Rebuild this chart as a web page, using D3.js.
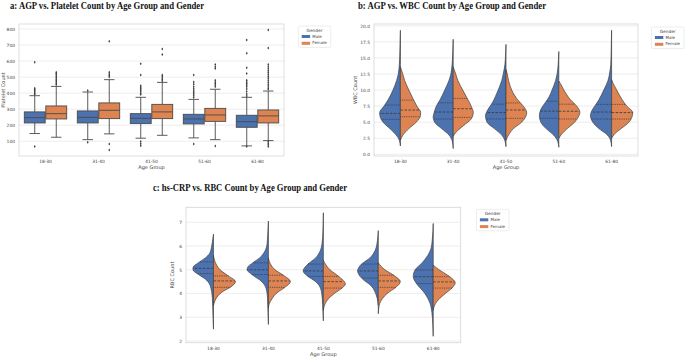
<!DOCTYPE html>
<html>
<head>
<meta charset="utf-8">
<script src="https://cdn.jsdelivr.net/npm/d3@7"></script>
<style>
  body { margin: 0; background: #fff; }
  text { font-family: "DejaVu Sans", sans-serif; }
</style>
</head>
<body>
<div class="chart"></div>
<script>
// categories
const ageGroups = ["18-30", "31-40", "41-50", "51-60", "61-80"];
const genders = ["Male", "Female"];

// a: platelet box stats per age group [whiskerLow, q1, median, q3, whiskerHigh]
const plateletMale = [
  [148, 214, 247, 283, 384],
  [110, 214, 249, 289, 407],
  [119, 210, 243, 272, 374],
  [121, 208, 239, 268, 361],
  [71, 187, 222, 262, 374]
];
const plateletFemale = [
  [125, 239, 272, 320, 442],
  [146, 241, 293, 339, 484],
  [137, 241, 283, 330, 467],
  [110, 224, 264, 305, 424],
  [104, 214, 258, 295, 413]
];
const plateletMaleOutliers = [
  [592, 430, 422, 415, 408, 400, 393, 67],
  [417, 94],
  [583, 513, 446, 436, 428, 420, 410, 400, 392, 98, 85, 72],
  [513, 470, 455, 440, 428, 415, 405, 395, 383, 372, 83],
  [731, 648, 559, 523, 480, 470, 460, 450, 440, 425, 410, 395, 382, 67]
];
const plateletFemaleOutliers = [
  [530, 522, 514, 505, 496, 487, 478, 470, 460, 452],
  [724, 530, 520, 510, 500, 83, 46],
  [675, 641, 513, 505, 495, 485, 475],
  [579, 565, 554, 480, 470, 460, 450, 440, 71],
  [793, 681, 579, 565, 552, 540, 528, 516, 504, 492, 480, 468, 456, 444, 432, 424, 98, 88, 78, 67]
];
const plateletTicks = [100, 200, 300, 400, 500, 600, 700, 800];

// b: WBC violin outlines [value, relative half width], and quartiles [q1, median, q3]
const wbcMaleShape = [
  [[1.3,0],[2.2,0.05],[3,0.2],[4,0.5],[5,0.82],[6,0.97],[6.5,0.98],[7.5,0.78],[8.5,0.58],[10,0.35],[11.5,0.18],[12.5,0.1],[14,0.05],[16,0.025],[19.3,0]],
  [[0.9,0],[2,0.04],[3,0.2],[4,0.55],[5,0.88],[5.8,0.95],[6.5,0.9],[7.5,0.8],[8.5,0.62],[10,0.4],[11.5,0.2],[12.5,0.11],[14,0.05],[16,0.02],[17.9,0]],
  [[1.2,0],[2.2,0.06],[3,0.2],[4,0.55],[5,0.9],[6,0.97],[7,0.85],[8,0.65],[9,0.5],[10,0.37],[11.5,0.2],[12.5,0.13],[14,0.05],[15.5,0.02],[17.1,0]],
  [[1.1,0],[2,0.05],[3,0.25],[4,0.6],[5,0.85],[6,0.92],[7,0.85],[8,0.65],[9,0.45],[10,0.32],[11.5,0.15],[12.5,0.08],[14,0.03],[16,0]],
  [[1.2,0],[2.2,0.05],[3,0.2],[4,0.6],[5,0.89],[6,1.0],[7,0.9],[7.5,0.8],[8.5,0.6],[10,0.37],[11.5,0.17],[12.5,0.1],[14,0.04],[16,0.02],[19.3,0]]
];
const wbcFemaleShape = [
  [[2.2,0],[3,0.12],[4,0.4],[5,0.75],[6,0.95],[6.5,0.96],[7.5,0.78],[8.5,0.62],[10,0.4],[11.5,0.2],[12.5,0.11],[13.6,0]],
  [[2.8,0],[3.5,0.15],[4.5,0.5],[5.5,0.85],[6.5,0.95],[7.5,0.85],[8.5,0.7],[10,0.45],[11.5,0.22],[12.5,0.12],[13.6,0]],
  [[2.2,0],[3,0.12],[4,0.35],[5,0.74],[6,0.95],[6.5,0.98],[7.5,0.82],[8.5,0.55],[10,0.27],[11.5,0.12],[12.5,0.06],[13.2,0]],
  [[2.5,0],[3.2,0.15],[4,0.4],[5,0.75],[6,0.95],[6.5,1.0],[7.5,0.85],[8.5,0.55],[10,0.24],[11,0.08],[11.4,0]],
  [[2.5,0],[3.2,0.15],[4,0.45],[5,0.82],[6,0.98],[6.5,1.0],[7.5,0.72],[8.5,0.5],[10,0.24],[11,0.08],[11.6,0]]
];
const wbcMaleQuartiles = [[5.44, 6.37, 7.67], [5.49, 6.58, 8.02], [5.5, 6.5, 7.8], [5.6, 6.73, 8.27], [5.49, 6.58, 7.77]];
const wbcFemaleQuartiles = [[5.85, 6.89, 8.44], [5.75, 7.1, 8.7], [5.6, 6.9, 8.0], [5.5, 6.7, 7.8], [5.49, 6.5, 7.77]];
const wbcTicks = [0, 2.5, 5, 7.5, 10, 12.5, 15, 17.5, 20];

// c: RBC violins
const rbcMaleShape = [
  [[2.5,0],[3,0.02],[3.6,0.04],[4,0.07],[4.2,0.11],[4.4,0.18],[4.6,0.36],[4.8,0.68],[5,0.93],[5.1,0.93],[5.3,0.68],[5.5,0.37],[5.7,0.17],[6,0.08],[6.3,0.03],[6.5,0]],
  [[2.7,0],[3.2,0.02],[3.8,0.04],[4.2,0.1],[4.5,0.3],[4.8,0.75],[5,0.97],[5.1,0.95],[5.3,0.7],[5.5,0.4],[5.8,0.15],[6.1,0.06],[6.5,0.03],[7.05,0]],
  [[2.85,0],[3.3,0.02],[3.8,0.05],[4.2,0.12],[4.5,0.35],[4.72,0.7],[4.95,0.92],[5.24,0.7],[5.5,0.35],[5.8,0.14],[6.1,0.06],[6.6,0.02],[7.4,0]],
  [[3.5,0],[3.8,0.05],[4,0.12],[4.3,0.3],[4.65,0.76],[4.95,0.94],[5.24,0.76],[5.5,0.38],[5.8,0.15],[6.1,0.06],[6.4,0.02],[6.65,0]],
  [[2.2,0],[2.7,0.02],[3.2,0.06],[3.6,0.15],[4,0.38],[4.42,0.76],[4.71,0.91],[4.99,0.83],[5.3,0.5],[5.6,0.25],[5.9,0.1],[6.3,0.04],[6.95,0]]
];
const rbcFemaleShape = [
  [[3.5,0],[3.7,0.07],[3.9,0.2],[4.1,0.45],[4.26,0.76],[4.5,1.0],[4.74,0.68],[5,0.3],[5.2,0.14],[5.4,0.05],[5.6,0]],
  [[3.4,0],[3.6,0.05],[3.8,0.18],[4,0.35],[4.26,0.75],[4.5,1.0],[4.77,0.68],[5,0.3],[5.2,0.12],[5.5,0]],
  [[3.3,0],[3.5,0.05],[3.8,0.25],[4,0.5],[4.23,0.85],[4.4,1.0],[4.72,0.7],[5,0.3],[5.2,0.12],[5.4,0]],
  [[3.15,0],[3.5,0.04],[3.8,0.2],[4,0.4],[4.26,0.8],[4.5,1.0],[4.77,0.7],[5,0.3],[5.15,0.12],[5.3,0]],
  [[3.3,0],[3.5,0.06],[3.8,0.3],[4,0.55],[4.23,0.85],[4.45,1.0],[4.71,0.75],[4.95,0.35],[5.1,0.12],[5.2,0]]
];
const rbcMaleQuartiles = [[4.84, 5.06, 5.33], [4.8, 5.0, 5.29], [4.72, 4.95, 5.24], [4.65, 4.95, 5.24], [4.42, 4.71, 4.99]];
const rbcFemaleQuartiles = [[4.26, 4.53, 4.74], [4.26, 4.53, 4.77], [4.23, 4.5, 4.72], [4.26, 4.53, 4.77], [4.23, 4.49, 4.71]];
const rbcTicks = [2, 3, 4, 5, 6, 7];

const colors = { Male: "#4c72b0", Female: "#dd8452" };
const lineGray = "#4a4a4a";

const svg = d3.select(".chart").append("svg")
  .attr("width", 685)
  .attr("height", 358)
  .style("background", "#fff");

// frame, grid, ticks, labels, legend for one panel
function drawPanel(p) {
  const g = svg.append("g");
  const x = d3.scaleBand().domain(ageGroups).range([p.left, p.right]);
  const y = d3.scaleLinear().domain(p.domain).range([p.bottom, p.top]);

  g.selectAll(".grid")
    .data(p.ticks)
    .join("line")
    .attr("x1", p.left).attr("x2", p.right)
    .attr("y1", d => y(d)).attr("y2", d => y(d))
    .attr("stroke", "#e8e8e8")
    .attr("stroke-width", 0.8);

  g.append("rect")
    .attr("x", p.left).attr("y", p.top)
    .attr("width", p.right - p.left).attr("height", p.bottom - p.top)
    .attr("fill", "none")
    .attr("stroke", "#d6d6d6")
    .attr("stroke-width", 0.8);

  const ya = g.append("g")
    .attr("transform", `translate(${p.left},0)`)
    .call(d3.axisLeft(y).tickValues(p.ticks).tickFormat(p.fmt).tickSize(0).tickPadding(4));
  ya.select(".domain").remove();
  ya.selectAll("text").attr("font-size", 4.4).attr("fill", "#444").attr("font-family", "DejaVu Sans");

  const xa = g.append("g")
    .attr("transform", `translate(0,${p.bottom})`)
    .call(d3.axisBottom(x).tickSize(0).tickPadding(4));
  xa.select(".domain").remove();
  xa.selectAll("text").attr("font-size", 4.4).attr("fill", "#444").attr("font-family", "DejaVu Sans");

  g.append("text")
    .attr("x", (p.left + p.right) / 2)
    .attr("y", p.bottom + 13)
    .attr("text-anchor", "middle")
    .attr("font-size", 5)
    .attr("fill", "#444")
    .text("Age Group");

  g.append("text")
    .attr("transform", `translate(${p.yLabelX},${(p.top + p.bottom) / 2}) rotate(-90)`)
    .attr("text-anchor", "middle")
    .attr("font-size", 5)
    .attr("fill", "#444")
    .text(p.yLabel);

  g.append("text")
    .attr("x", p.titleX)
    .attr("y", p.titleY)
    .attr("font-weight", "bold")
    .attr("font-size", 11)
    .attr("textLength", p.titleW)
    .attr("lengthAdjust", "spacingAndGlyphs")
    .attr("fill", "#111")
    .style("font-family", "'Liberation Serif', serif")
    .text(p.title);

  // legend
  const lg = g.append("g").attr("transform", `translate(${p.legendX},${p.legendY})`);
  lg.append("rect")
    .attr("width", 32.5).attr("height", 21.5).attr("rx", 1.5)
    .attr("fill", "#fff").attr("stroke", "#e0e0e0").attr("stroke-width", 0.6);
  lg.append("text")
    .attr("x", 16.2).attr("y", 6.2)
    .attr("text-anchor", "middle")
    .attr("font-size", 4.3).attr("fill", "#444")
    .text("Gender");
  genders.forEach((gd, i) => {
    lg.append("rect")
      .attr("x", 3.4).attr("y", 9 + i * 6.8)
      .attr("width", 8.4).attr("height", 3)
      .attr("fill", colors[gd]);
    lg.append("text")
      .attr("x", 14).attr("y", 11.6 + i * 6.8)
      .attr("font-size", 4).attr("fill", "#444")
      .text(gd);
  });

  return { g, x, y };
}

// ---------- a: box plots ----------
const A = drawPanel({
  left: 19, right: 284, top: 24, bottom: 156,
  domain: [8, 831], ticks: plateletTicks, fmt: d3.format("d"),
  yLabel: "Platelet Count", yLabelX: 4.5,
  title: "a: AGP vs. Platelet Count by Age Group and Gender", titleX: 10, titleY: 8.5, titleW: 194,
  legendX: 298.3, legendY: 26
});
{
  const hue = d3.scaleBand().domain(genders).range([0, A.x.bandwidth() * 0.8]).paddingInner(0.03);
  const stats = { Male: plateletMale, Female: plateletFemale };
  const outs = { Male: plateletMaleOutliers, Female: plateletFemaleOutliers };
  ageGroups.forEach((ag, i) => {
    genders.forEach(gd => {
      const [lo, q1, med, q3, hi] = stats[gd][i];
      const x0 = A.x(ag) + A.x.bandwidth() * 0.1 + hue(gd);
      const bw = hue.bandwidth();
      const cx = x0 + bw / 2;
      const bg = A.g.append("g");
      bg.append("line").attr("x1", cx).attr("x2", cx).attr("y1", A.y(q3)).attr("y2", A.y(hi))
        .attr("stroke", lineGray).attr("stroke-width", 0.9);
      bg.append("line").attr("x1", cx).attr("x2", cx).attr("y1", A.y(q1)).attr("y2", A.y(lo))
        .attr("stroke", lineGray).attr("stroke-width", 0.9);
      [lo, hi].forEach(v => bg.append("line")
        .attr("x1", cx - bw / 4).attr("x2", cx + bw / 4)
        .attr("y1", A.y(v)).attr("y2", A.y(v))
        .attr("stroke", lineGray).attr("stroke-width", 0.9));
      bg.append("rect")
        .attr("x", x0).attr("y", A.y(q3))
        .attr("width", bw).attr("height", A.y(q1) - A.y(q3))
        .attr("fill", colors[gd]).attr("stroke", lineGray).attr("stroke-width", 0.9);
      bg.append("line").attr("x1", x0).attr("x2", x0 + bw).attr("y1", A.y(med)).attr("y2", A.y(med))
        .attr("stroke", lineGray).attr("stroke-width", 0.9);
      bg.selectAll("path.out")
        .data(outs[gd][i])
        .join("path")
        .attr("d", "M0,-1.5L0.9,0L0,1.5L-0.9,0Z")
        .attr("transform", v => `translate(${cx},${A.y(v)})`)
        .attr("fill", "#3d3d3d");
    });
  });
}

// ---------- violins ----------
function widthAt(shape, v) {
  for (let k = 1; k < shape.length; k++) {
    const [v0, w0] = shape[k - 1], [v1, w1] = shape[k];
    if (v >= v0 && v <= v1) return w0 + (w1 - w0) * (v - v0) / (v1 - v0);
  }
  return 0;
}

function drawViolins(P, maleShape, femaleShape, maleQ, femaleQ) {
  const half = P.x.bandwidth() * 0.4;
  const shapes = { Male: maleShape, Female: femaleShape };
  const quarts = { Male: maleQ, Female: femaleQ };
  ageGroups.forEach((ag, i) => {
    const cx = P.x(ag) + P.x.bandwidth() / 2;
    genders.forEach(gd => {
      const dir = gd === "Male" ? -1 : 1;
      const shape = shapes[gd][i].slice().reverse();
      const area = d3.area()
        .curve(d3.curveMonotoneY)
        .y(d => P.y(d[0]))
        .x0(cx)
        .x1(d => cx + dir * d[1] * half);
      P.g.append("path")
        .attr("d", area(shape))
        .attr("fill", colors[gd])
        .attr("stroke", "#404040")
        .attr("stroke-width", 0.7);
      quarts[gd][i].forEach((q, k) => {
        const w = widthAt(shapes[gd][i], q) * half;
        P.g.append("line")
          .attr("x1", cx).attr("x2", cx + dir * w)
          .attr("y1", P.y(q)).attr("y2", P.y(q))
          .attr("stroke", "#3a3a3a")
          .attr("stroke-width", 0.8)
          .attr("stroke-dasharray", k === 1 ? "2.6,1.4" : "0.9,0.9");
      });
    });
  });
}

const B = drawPanel({
  left: 374, right: 638, top: 24, bottom: 156,
  domain: [-0.26, 20.28], ticks: wbcTicks, fmt: d3.format(".1f"),
  yLabel: "WBC Count", yLabelX: 356.5,
  title: "b: AGP vs. WBC Count by Age Group and Gender", titleX: 358, titleY: 8.5, titleW: 188,
  legendX: 651.5, legendY: 27
});
drawViolins(B, wbcMaleShape, wbcFemaleShape, wbcMaleQuartiles, wbcFemaleQuartiles);

const C = drawPanel({
  left: 186, right: 460.7, top: 207.3, bottom: 342.7,
  domain: [1.93, 7.63], ticks: rbcTicks, fmt: d3.format("d"),
  yLabel: "RBC Count", yLabelX: 174,
  title: "c: hs-CRP vs. RBC Count by Age Group and Gender", titleX: 153, titleY: 190.5, titleW: 194,
  legendX: 476.5, legendY: 209.3
});
drawViolins(C, rbcMaleShape, rbcFemaleShape, rbcMaleQuartiles, rbcFemaleQuartiles);
</script>
</body>
</html>
